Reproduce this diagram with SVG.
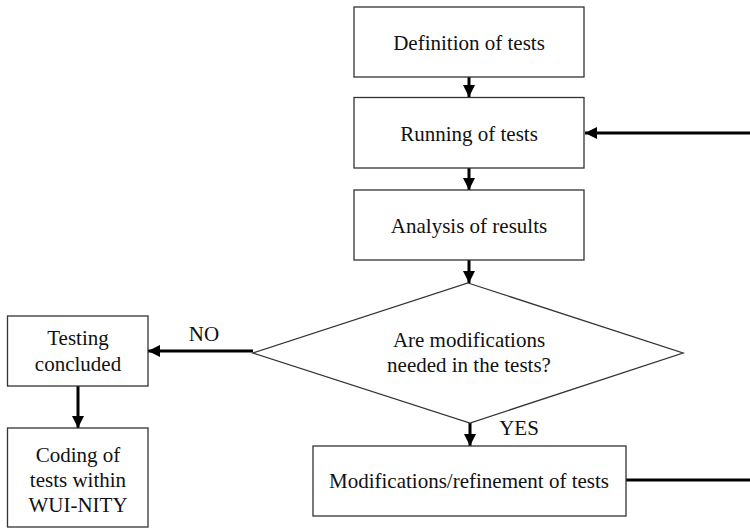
<svg xmlns="http://www.w3.org/2000/svg" width="750" height="528" viewBox="0 0 750 528">
<style>
.box{fill:#fff;stroke:#333;stroke-width:1.3}
.c{fill:none;stroke:#000;stroke-width:3}
</style>
<defs>
<marker id="ah" markerWidth="4" markerHeight="4" refX="4" refY="2" orient="auto" markerUnits="strokeWidth">
<path d="M0,0 L4,2 L0,4 Z" fill="#000"/>
</marker>
</defs>
<rect width="750" height="528" fill="#fff"/>
<g id="connectors">
<line class="c" x1="469" y1="77" x2="469" y2="97" marker-end="url(#ah)"/>
<line class="c" x1="469" y1="168" x2="469" y2="190" marker-end="url(#ah)"/>
<line class="c" x1="469" y1="260" x2="469" y2="283" marker-end="url(#ah)"/>
<line class="c" x1="470" y1="423" x2="470" y2="446" marker-end="url(#ah)"/>
<line class="c" x1="253" y1="351" x2="148" y2="351" marker-end="url(#ah)"/>
<line class="c" x1="78" y1="386" x2="78" y2="428" marker-end="url(#ah)"/>
<line class="c" x1="626" y1="480" x2="751" y2="480"/>
<line class="c" x1="751" y1="133" x2="585" y2="133" marker-end="url(#ah)"/>
</g>
<g font-family="Liberation Serif" font-size="21" fill="#111" text-anchor="middle">
<g id="lbl-no"><text x="204" y="341">NO</text></g>
<g id="lbl-yes"><text x="519" y="435">YES</text></g>
<g id="n1"><rect class="box" x="354" y="7" width="230" height="70"/><text x="469" y="50">Definition of tests</text></g>
<g id="n2"><rect class="box" x="354" y="97.5" width="230" height="70.5"/><text x="469" y="141">Running of tests</text></g>
<g id="n3"><rect class="box" x="354" y="190" width="230" height="70"/><text x="469" y="233">Analysis of results</text></g>
<g id="n4"><path class="box" d="M468,283 L683,353 L470,423 L253,353 Z"/><text x="469" y="347">Are modifications</text><text x="469" y="372">needed in the tests?</text></g>
<g id="n5"><rect class="box" x="313" y="446" width="313" height="70"/><text x="469" y="488">Modifications/refinement of tests</text></g>
<g id="n6"><rect class="box" x="7.5" y="316" width="140.5" height="70"/><text x="78" y="345">Testing</text><text x="78" y="371">concluded</text></g>
<g id="n7"><rect class="box" x="7.5" y="428" width="140.5" height="99"/><text x="78" y="462">Coding of</text><text x="78" y="487">tests within</text><text x="78" y="512">WUI-NITY</text></g>
</g>
</svg>
